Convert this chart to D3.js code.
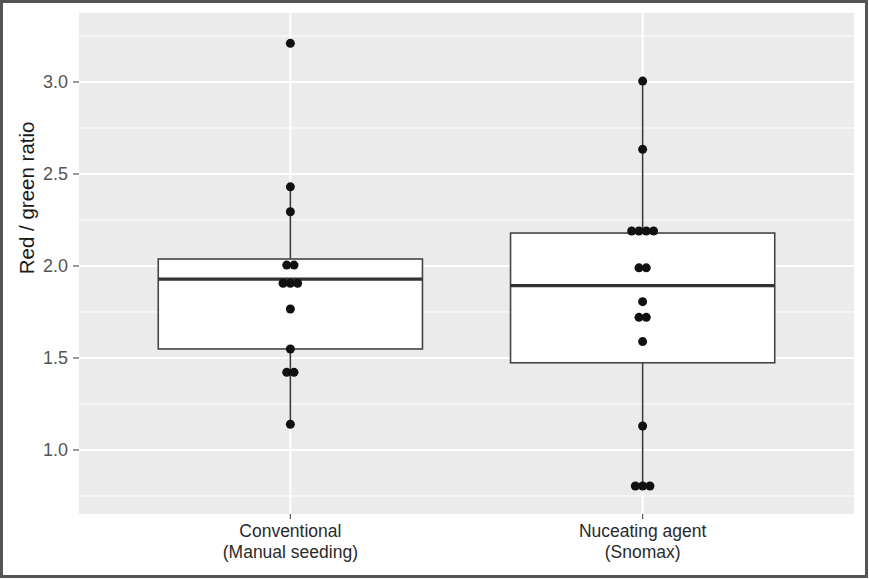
<!DOCTYPE html>
<html>
<head>
<meta charset="utf-8">
<script src="https://cdn.jsdelivr.net/npm/d3@7"></script>
<style>
  html, body { margin: 0; padding: 0; background: #fff; }
  svg { display: block; font-family: "Liberation Sans", Arial, sans-serif; }
</style>
</head>
<body>
<svg id="chart" width="869" height="579"></svg>
<script>
// ---- data ----
const categories = ["Conventional", "Nuceating agent"];
const categoryLine1 = ["Conventional", "Nuceating agent"];
const categoryLine2 = ["(Manual seeding)", "(Snomax)"];

// individual observations (dot plot)
const conventionalDots = [3.21, 2.43, 2.295, 2.005, 2.005, 1.906, 1.906, 1.906, 1.766, 1.549, 1.422, 1.422, 1.14];
const snomaxDots = [3.005, 2.634, 2.19, 2.19, 2.19, 2.19, 1.99, 1.99, 1.806, 1.721, 1.721, 1.589, 1.13, 0.804, 0.804, 0.804];

// box statistics: [lower whisker, Q1, median, Q3, upper whisker]
const conventionalBox = [1.14, 1.549, 1.929, 2.038, 2.43];
const snomaxBox = [0.804, 1.474, 1.893, 2.179, 3.005];

const yTicks = [1.0, 1.5, 2.0, 2.5, 3.0];
const yMinorTicks = [0.75, 1.25, 1.75, 2.25, 2.75, 3.25];
const yTitle = "Red / green ratio";

// ---- layout ----
const svg = d3.select("#chart");
const panel = { left: 79, right: 854, top: 13, bottom: 514 };

const x = d3.scalePoint().domain(categories).range([panel.left, panel.right]).padding(0.6);
const y = d3.scaleLinear().domain([0.652, 3.375]).range([panel.bottom, panel.top]);
const step = x.step();
const boxW = step * 0.75;

// outer frame
svg.append("rect").attr("x", 1.5).attr("y", 1.5).attr("width", 865).attr("height", 575)
  .attr("fill", "#fff").attr("stroke", "#555").attr("stroke-width", 3);

// panel background
svg.append("rect").attr("x", panel.left).attr("y", panel.top)
  .attr("width", panel.right - panel.left).attr("height", panel.bottom - panel.top)
  .attr("fill", "#ebebeb");

// grid
const grid = svg.append("g");
grid.selectAll("line.minor").data(yMinorTicks).join("line")
  .attr("x1", panel.left).attr("x2", panel.right)
  .attr("y1", d => y(d)).attr("y2", d => y(d))
  .attr("stroke", "#fff").attr("stroke-width", 1);
grid.selectAll("line.major").data(yTicks).join("line")
  .attr("x1", panel.left).attr("x2", panel.right)
  .attr("y1", d => y(d)).attr("y2", d => y(d))
  .attr("stroke", "#fff").attr("stroke-width", 2);
grid.selectAll("line.vmajor").data(categories).join("line")
  .attr("x1", d => x(d)).attr("x2", d => x(d))
  .attr("y1", panel.top).attr("y2", panel.bottom)
  .attr("stroke", "#fff").attr("stroke-width", 2);

// boxes
const boxes = [conventionalBox, snomaxBox];
const dots = [conventionalDots, snomaxDots];
const boxColor = "#3a3a3a";

categories.forEach((cat, i) => {
  const b = boxes[i];
  const cx = x(cat);
  const g = svg.append("g");
  // whiskers
  g.append("line").attr("x1", cx).attr("x2", cx).attr("y1", y(b[3])).attr("y2", y(b[4]))
    .attr("stroke", boxColor).attr("stroke-width", 1.6);
  g.append("line").attr("x1", cx).attr("x2", cx).attr("y1", y(b[1])).attr("y2", y(b[0]))
    .attr("stroke", boxColor).attr("stroke-width", 1.6);
  // box
  g.append("rect").attr("x", cx - boxW / 2).attr("y", y(b[3]))
    .attr("width", boxW).attr("height", y(b[1]) - y(b[3]))
    .attr("fill", "#fff").attr("stroke", "#444").attr("stroke-width", 1.6);
  // median
  g.append("line").attr("x1", cx - boxW / 2).attr("x2", cx + boxW / 2)
    .attr("y1", y(b[2])).attr("y2", y(b[2]))
    .attr("stroke", "#333").attr("stroke-width", 3.2);
});

// dots (centered stacks)
const dotSpacing = 7.3, dotR = 4.5;
categories.forEach((cat, i) => {
  const cx = x(cat);
  const groups = d3.groups(dots[i], d => d);
  const pts = [];
  groups.forEach(([v, arr]) => {
    const n = arr.length;
    arr.forEach((_, k) => pts.push({ v, off: (k - (n - 1) / 2) * dotSpacing }));
  });
  svg.append("g").selectAll("circle").data(pts).join("circle")
    .attr("cx", d => cx + d.off).attr("cy", d => y(d.v)).attr("r", dotR)
    .attr("fill", "#111");
});

// y axis
const yAxis = svg.append("g");
yAxis.selectAll("line").data(yTicks).join("line")
  .attr("x1", panel.left - 6).attr("x2", panel.left)
  .attr("y1", d => y(d)).attr("y2", d => y(d))
  .attr("stroke", "#555").attr("stroke-width", 1.2);
yAxis.selectAll("text").data(yTicks).join("text")
  .attr("x", panel.left - 11).attr("y", d => y(d)).attr("dy", "0.36em")
  .attr("text-anchor", "end").attr("font-size", 18).attr("fill", "#555")
  .text(d => d3.format(".1f")(d));

// x axis
const xAxis = svg.append("g");
xAxis.selectAll("line").data(categories).join("line")
  .attr("x1", d => x(d)).attr("x2", d => x(d))
  .attr("y1", panel.bottom).attr("y2", panel.bottom + 5)
  .attr("stroke", "#555").attr("stroke-width", 1.2);
xAxis.selectAll("text.l1").data(categories).join("text")
  .attr("x", d => x(d)).attr("y", 537).attr("text-anchor", "middle")
  .attr("font-size", 17.5).attr("fill", "#2a2a2a")
  .text((d, i) => categoryLine1[i]);
xAxis.selectAll("text.l2").data(categories).join("text")
  .attr("class", "l2")
  .attr("x", d => x(d)).attr("y", 558).attr("text-anchor", "middle")
  .attr("font-size", 17.5).attr("fill", "#2a2a2a")
  .text((d, i) => categoryLine2[i]);

// y title
svg.append("text")
  .attr("transform", `translate(34, ${y(2.37)}) rotate(-90)`)
  .attr("text-anchor", "middle").attr("font-size", 20.5).attr("fill", "#1a1a1a")
  .text(yTitle);
</script>
</body>
</html>
